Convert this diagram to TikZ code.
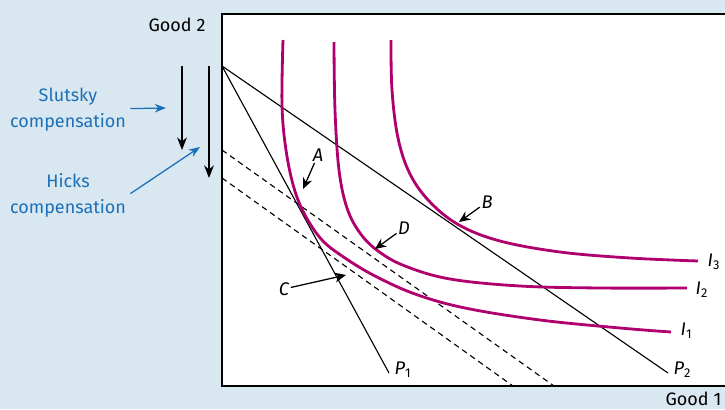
\documentclass[tikz,border=0pt]{standalone}
\usepackage{fontspec}
\setmainfont{Fira Sans}
\usetikzlibrary{arrows.meta, positioning}
\definecolor{panelblue}{RGB}{216,231,240}
\definecolor{curvemagenta}{RGB}{176,0,110}
\definecolor{noteblue}{RGB}{28,112,184}

\begin{document}
\begin{tikzpicture}[x=0.025cm, y=-0.025cm,
    budget/.style={line width=0.8pt},
    shifted/.style={line width=0.8pt, dash pattern=on 4pt off 3pt},
    indiff/.style={draw=curvemagenta, line width=2pt},
    pointer/.style={-{Stealth[length=8pt, width=7pt]}, line width=0.9pt},
    shiftarrow/.style={-{Stealth[length=9pt, width=7pt]}, line width=0.9pt},
    bluepointer/.style={-{Stealth[length=8pt, width=6pt]}, line width=0.9pt, draw=noteblue, fill=noteblue},
    ptlabel/.style={font=\fontsize{13}{15}\selectfont\itshape, inner sep=1pt},
    axislabel/.style={font=\fontsize{12.8}{15}\selectfont, inner sep=1pt},
    notelabel/.style={font=\fontsize{12.8}{18.4}\selectfont, text=noteblue, align=center, inner sep=1pt}
]
    \useasboundingbox (0,0) rectangle (725,409);
    \fill[panelblue] (0,0) rectangle (725,409);
    \fill[white] (222,14) rectangle (725,386);
    \draw[line width=1pt] (725,14) -- (222,14) -- (222,386) -- (725,386);

    % axis labels
    \node[axislabel] (good2) at (177,25) {Good 2};
    \node[axislabel, anchor=east] (good1) at (723,399) {Good 1};

    % budget lines
    \coordinate (origin) at (222,66);
    \coordinate (p1end) at (389,373);
    \coordinate (p2end) at (668,373);
    \draw[budget] (origin) -- (p1end);
    \draw[budget] (origin) -- (p2end);
    \node[ptlabel, anchor=west] (P1) at (393,370) {P\textup{\textsubscript{1}}};
    \node[ptlabel, anchor=west] (P2) at (672,370) {P\textup{\textsubscript{2}}};

    % compensated budget lines
    \coordinate (slutskystart) at (222,150);
    \coordinate (slutskyend) at (554,386);
    \coordinate (hicksstart) at (222,178);
    \coordinate (hicksend) at (513,386);
    \draw[shifted] (slutskystart) -- (slutskyend);
    \draw[shifted] (hicksstart) -- (hicksend);

    % indifference curves
    \draw[indiff] plot[smooth, tension=0.6] coordinates {(283,40) (282,105) (286,150) (294,188)
        (305,215) (322,240) (345,258) (375,276) (415,294) (465,308) (540,320) (620,328) (671,332)};
    \draw[indiff] plot[smooth, tension=0.6] coordinates {(334,42) (335,110) (339,170) (347,208)
        (360,233) (378,251) (405,266) (450,279) (520,286) (600,288) (687,288)};
    \draw[indiff] plot[smooth, tension=0.6] coordinates {(391,40) (392,90) (398,138) (410,174)
        (430,202) (459,225) (500,241) (560,252) (630,258) (698,261)};
    \node[ptlabel, anchor=west] (I1) at (679,331) {I\textup{\textsubscript{1}}};
    \node[ptlabel, anchor=west] (I2) at (694,290) {I\textup{\textsubscript{2}}};
    \node[ptlabel, anchor=west] (I3) at (706,262) {I\textup{\textsubscript{3}}};

    % points
    \coordinate (A) at (303,189);
    \coordinate (B) at (459,222);
    \coordinate (C) at (346,275);
    \coordinate (D) at (375,249);
    \node[ptlabel] (labelA) at (318,155) {A};
    \node[ptlabel] (labelB) at (487,202) {B};
    \node[ptlabel] (labelC) at (284,289) {C};
    \node[ptlabel] (labelD) at (404,228) {D};
    \draw[pointer] (labelA) -- (A);
    \draw[pointer] (labelB) -- (B);
    \draw[pointer] (labelC) -- (C);
    \draw[pointer] (labelD) -- (D);

    % compensation shifts
    \coordinate (slutskytop) at (182,66);
    \coordinate (slutskybottom) at (182,150);
    \coordinate (hickstop) at (209,66);
    \coordinate (hicksbottom) at (209,178);
    \draw[shiftarrow] (slutskytop) -- (slutskybottom);
    \draw[shiftarrow] (hickstop) -- (hicksbottom);

    \node[notelabel] (slutsky) at (68,110) {Slutsky\\compensation};
    \node[notelabel] (hicks) at (68,195) {Hicks\\compensation};
    \coordinate (slutskytip) at (166,108);
    \coordinate (hickstip) at (200,147);
    \draw[bluepointer] ([xshift=2pt, yshift=1pt]slutsky.east) -- (slutskytip);
    \draw[bluepointer] ([xshift=2pt, yshift=1pt]hicks.east) -- (hickstip);
\end{tikzpicture}
\end{document}
